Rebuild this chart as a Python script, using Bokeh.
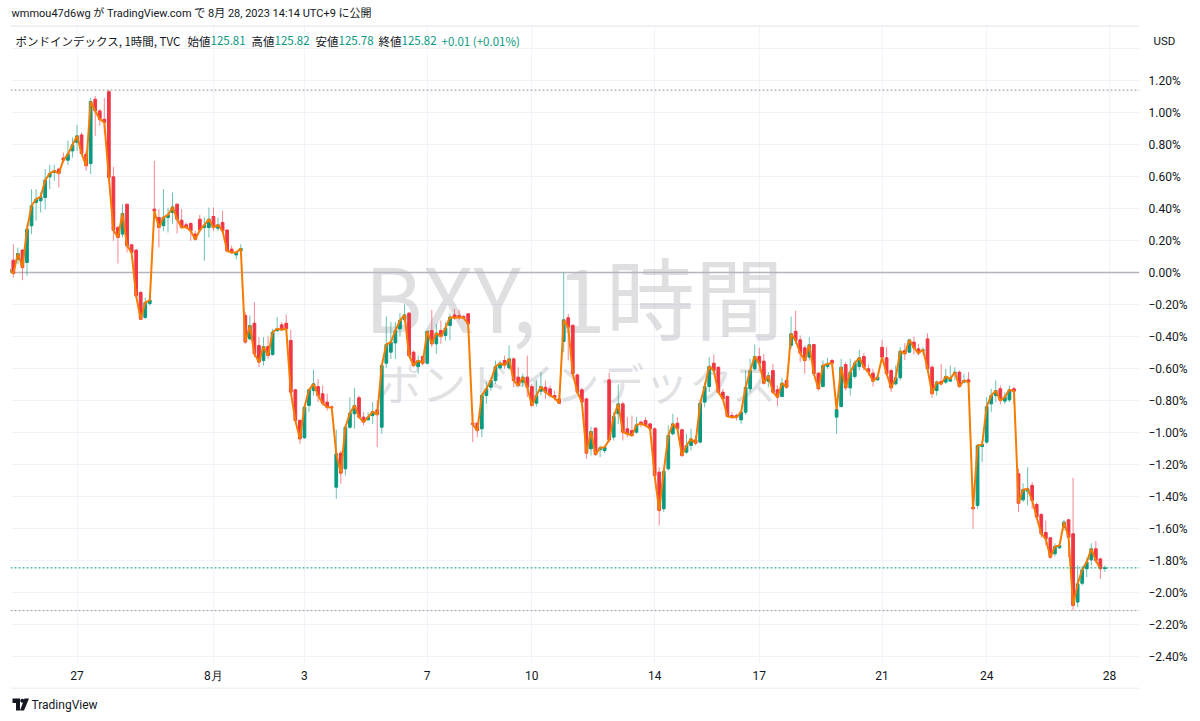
import math
from bokeh.plotting import figure
from bokeh.layouts import column
from bokeh.models import (Range1d, FixedTicker, CustomJSTickFormatter, Span, Label,
                          ColumnDataSource)
from bokeh.core.properties import value
from bokeh.embed import file_html
from bokeh.resources import INLINE

# ---------------- data (percent change vs. first bar) ----------------
opens = [
    0.000, 0.077, 0.083, 0.140, 0.063, 0.292, 0.438, 0.448, 0.469, 0.598,
    0.625, 0.646, 0.715, 0.702, 0.760, 0.813, 0.860, 0.740, 0.681, 1.083,
    1.010, 0.958, 1.130, 0.598, 0.281, 0.240, 0.427, 0.173, 0.140, -0.125,
    -0.281, -0.194, 0.396, 0.344, 0.292, 0.344, 0.375, 0.427, 0.327, 0.298,
    0.306, 0.240, 0.333, 0.281, 0.281, 0.350, 0.277, 0.313, 0.265, 0.146,
    0.110, 0.135, -0.269, -0.415, -0.317, -0.456, -0.550, -0.463, -0.513, -0.363,
    -0.327, -0.317, -0.425, -0.733, -0.925, -1.033, -0.831, -0.738, -0.713, -0.758,
    -0.810, -0.840, -1.342, -1.129, -1.227, -0.967, -0.883, -0.783, -0.904, -0.921,
    -0.894, -0.858, -0.967, -0.567, -0.498, -0.440, -0.352, -0.296, -0.254, -0.498,
    -0.588, -0.525, -0.567, -0.363, -0.446, -0.363, -0.394, -0.331, -0.265, -0.269,
    -0.275, -0.258, -0.942, -0.942, -0.977, -0.769, -0.717, -0.675, -0.596, -0.550,
    -0.596, -0.540, -0.654, -0.685, -0.654, -0.713, -0.817, -0.742, -0.717, -0.727,
    -0.769, -0.790, -0.431, -0.283, -0.331, -0.640, -0.733, -0.790, -1.102, -0.973,
    -1.108, -1.113, -0.671, -1.029, -0.883, -0.821, -0.977, -0.988, -0.998, -0.935,
    -0.925, -0.946, -0.977, -1.248, -1.477, -1.227, -1.008, -0.942, -0.983, -1.123,
    -1.081, -1.046, -1.060, -0.810, -0.713, -0.567, -0.592, -0.748, -0.775, -0.894,
    -0.894, -0.921, -0.873, -0.727, -0.602, -0.525, -0.554, -0.679, -0.613, -0.733,
    -0.775, -0.675, -0.456, -0.367, -0.421, -0.471, -0.529, -0.450, -0.629, -0.713,
    -0.588, -0.550, -0.904, -0.838, -0.575, -0.721, -0.650, -0.588, -0.525, -0.602,
    -0.629, -0.671, -0.467, -0.533, -0.613, -0.696, -0.658, -0.488, -0.498, -0.435,
    -0.477, -0.488, -0.415, -0.592, -0.738, -0.681, -0.685, -0.679, -0.633, -0.623,
    -0.685, -0.671, -1.467, -1.456, -1.088, -1.060, -0.821, -0.769, -0.727, -0.804,
    -0.796, -0.727, -1.258, -1.421, -1.367, -1.331, -1.450, -1.513, -1.625, -1.658,
    -1.758, -1.721, -1.592, -1.546, -1.633, -2.060, -1.942, -1.852, -1.796, -1.727,
    -1.790, -1.850,
]
highs = [
    0.052, 0.177, 0.156, 0.146, 0.302, 0.521, 0.521, 0.500, 0.646, 0.673,
    0.673, 0.656, 0.750, 0.823, 0.844, 0.923, 0.875, 0.760, 1.090, 1.104,
    1.021, 1.090, 1.140, 0.660, 0.292, 0.427, 0.427, 0.177, 0.146, -0.115,
    -0.156, -0.156, 0.698, 0.396, 0.521, 0.406, 0.500, 0.431, 0.396, 0.313,
    0.313, 0.260, 0.360, 0.344, 0.406, 0.406, 0.344, 0.385, 0.271, 0.167,
    0.135, 0.177, -0.248, -0.269, -0.185, -0.404, -0.404, -0.400, -0.352, -0.279,
    -0.310, -0.263, -0.358, -0.727, -0.915, -0.831, -0.727, -0.608, -0.665, -0.706,
    -0.758, -0.831, -0.983, -1.113, -0.956, -0.779, -0.721, -0.769, -0.873, -0.873,
    -0.810, -0.800, -0.571, -0.275, -0.310, -0.310, -0.254, -0.200, -0.248, -0.488,
    -0.519, -0.519, -0.367, -0.233, -0.321, -0.300, -0.310, -0.258, -0.227, -0.233,
    -0.265, -0.254, -0.883, -0.935, -0.758, -0.685, -0.654, -0.550, -0.550, -0.519,
    -0.456, -0.529, -0.592, -0.633, -0.519, -0.696, -0.675, -0.623, -0.675, -0.706,
    -0.738, -0.758, 0.000, -0.258, -0.321, -0.633, -0.721, -0.783, -0.963, -0.967,
    -1.081, -1.081, -0.627, -0.873, -0.700, -0.810, -0.904, -0.894, -0.904, -0.925,
    -0.904, -0.942, -0.967, -1.217, -1.227, -0.956, -0.883, -0.904, -0.977, -1.008,
    -0.977, -1.019, -0.810, -0.685, -0.529, -0.513, -0.588, -0.727, -0.769, -0.873,
    -0.883, -0.863, -0.613, -0.540, -0.450, -0.471, -0.508, -0.623, -0.571, -0.706,
    -0.658, -0.665, -0.275, -0.238, -0.394, -0.456, -0.404, -0.446, -0.623, -0.550,
    -0.533, -0.540, -0.842, -0.540, -0.560, -0.540, -0.550, -0.483, -0.504, -0.575,
    -0.602, -0.650, -0.421, -0.467, -0.602, -0.581, -0.467, -0.442, -0.415, -0.400,
    -0.446, -0.467, -0.379, -0.581, -0.675, -0.571, -0.602, -0.581, -0.592, -0.613,
    -0.633, -0.623, -1.450, -1.071, -1.050, -0.779, -0.727, -0.675, -0.706, -0.748,
    -0.706, -0.713, -1.227, -1.317, -1.217, -1.310, -1.435, -1.504, -1.550, -1.654,
    -1.692, -1.692, -1.546, -1.540, -1.283, -1.831, -1.831, -1.783, -1.692, -1.679,
    -1.783, -1.831,
]
lows = [
    -0.010, -0.031, 0.052, -0.048, -0.021, 0.240, 0.323, 0.375, 0.396, 0.521,
    0.573, 0.531, 0.688, 0.673, 0.719, 0.760, 0.740, 0.635, 0.615, 0.854,
    0.917, 0.865, 0.590, 0.198, 0.056, 0.219, 0.125, 0.119, -0.156, -0.298,
    -0.292, -0.208, 0.323, 0.156, 0.260, 0.250, 0.302, 0.244, 0.275, 0.271,
    0.198, 0.198, 0.250, 0.073, 0.219, 0.260, 0.260, 0.240, 0.125, 0.115,
    0.083, 0.125, -0.446, -0.425, -0.529, -0.592, -0.581, -0.540, -0.519, -0.373,
    -0.363, -0.373, -0.758, -0.935, -1.071, -1.040, -0.873, -0.769, -0.810, -0.831,
    -0.863, -0.852, -1.415, -1.321, -1.269, -0.977, -0.977, -0.915, -0.956, -0.925,
    -0.946, -1.092, -1.008, -0.596, -0.540, -0.540, -0.400, -0.310, -0.525, -0.592,
    -0.633, -0.581, -0.575, -0.467, -0.508, -0.446, -0.425, -0.425, -0.296, -0.296,
    -0.292, -0.331, -1.060, -1.029, -1.029, -0.821, -0.738, -0.696, -0.608, -0.602,
    -0.608, -0.717, -0.713, -0.717, -0.779, -0.842, -0.838, -0.769, -0.790, -0.779,
    -0.800, -0.821, -0.498, -0.550, -0.644, -0.754, -0.821, -1.165, -1.144, -1.144,
    -1.154, -1.129, -1.060, -1.050, -0.946, -1.050, -1.029, -1.029, -1.008, -0.967,
    -0.967, -0.988, -1.279, -1.581, -1.498, -1.238, -1.019, -0.988, -1.154, -1.133,
    -1.113, -1.081, -1.067, -0.842, -0.748, -0.623, -0.754, -0.800, -0.904, -0.915,
    -0.925, -0.946, -0.890, -0.750, -0.613, -0.613, -0.700, -0.717, -0.758, -0.835,
    -0.779, -0.727, -0.477, -0.446, -0.560, -0.633, -0.550, -0.644, -0.738, -0.717,
    -0.602, -0.575, -1.008, -0.842, -0.738, -0.769, -0.665, -0.613, -0.613, -0.644,
    -0.713, -0.675, -0.540, -0.644, -0.748, -0.706, -0.675, -0.546, -0.504, -0.513,
    -0.519, -0.513, -0.613, -0.783, -0.769, -0.706, -0.696, -0.685, -0.675, -0.721,
    -0.692, -0.706, -1.602, -1.477, -1.185, -1.071, -0.873, -0.810, -0.825, -0.821,
    -0.810, -0.821, -1.498, -1.435, -1.456, -1.477, -1.540, -1.658, -1.706, -1.790,
    -1.775, -1.727, -1.613, -1.779, -2.113, -2.092, -1.956, -1.904, -1.831, -1.817,
    -1.915, -1.871,
]
closes = [
    0.021, -0.006, 0.119, 0.031, 0.271, 0.417, 0.458, 0.473, 0.577, 0.619,
    0.635, 0.619, 0.702, 0.740, 0.798, 0.854, 0.744, 0.667, 1.069, 1.010,
    0.958, 0.938, 0.594, 0.265, 0.219, 0.369, 0.167, 0.125, -0.146, -0.292,
    -0.188, -0.173, 0.385, 0.281, 0.344, 0.360, 0.410, 0.333, 0.281, 0.285,
    0.260, 0.208, 0.265, 0.296, 0.333, 0.281, 0.298, 0.260, 0.135, 0.125,
    0.125, 0.150, -0.435, -0.331, -0.508, -0.560, -0.463, -0.519, -0.373, -0.352,
    -0.358, -0.352, -0.748, -0.925, -1.040, -0.842, -0.733, -0.696, -0.769, -0.817,
    -0.842, -0.844, -1.133, -1.254, -0.967, -0.879, -0.831, -0.904, -0.935, -0.904,
    -0.869, -0.888, -0.581, -0.450, -0.435, -0.363, -0.300, -0.265, -0.519, -0.581,
    -0.550, -0.567, -0.367, -0.446, -0.379, -0.400, -0.348, -0.279, -0.283, -0.279,
    -0.283, -0.321, -0.950, -0.988, -0.769, -0.727, -0.675, -0.588, -0.567, -0.581,
    -0.540, -0.675, -0.706, -0.654, -0.717, -0.831, -0.769, -0.713, -0.748, -0.769,
    -0.783, -0.817, -0.296, -0.342, -0.633, -0.748, -0.810, -1.129, -0.994, -1.138,
    -1.096, -1.092, -1.046, -0.900, -0.821, -0.998, -1.008, -1.019, -0.952, -0.946,
    -0.956, -0.977, -1.269, -1.488, -1.242, -1.019, -0.946, -0.977, -1.144, -1.081,
    -1.040, -1.067, -0.817, -0.713, -0.588, -0.613, -0.748, -0.790, -0.900, -0.904,
    -0.904, -0.873, -0.717, -0.613, -0.525, -0.567, -0.692, -0.644, -0.748, -0.779,
    -0.692, -0.717, -0.383, -0.425, -0.504, -0.550, -0.452, -0.633, -0.727, -0.581,
    -0.571, -0.567, -0.856, -0.592, -0.721, -0.623, -0.567, -0.533, -0.592, -0.623,
    -0.679, -0.654, -0.529, -0.633, -0.721, -0.658, -0.492, -0.508, -0.421, -0.471,
    -0.504, -0.483, -0.602, -0.758, -0.685, -0.696, -0.650, -0.665, -0.623, -0.713,
    -0.675, -0.685, -1.477, -1.081, -1.075, -0.838, -0.769, -0.738, -0.800, -0.779,
    -0.733, -0.742, -1.442, -1.358, -1.352, -1.425, -1.529, -1.633, -1.665, -1.779,
    -1.713, -1.706, -1.560, -1.654, -2.081, -1.946, -1.858, -1.810, -1.727, -1.800,
    -1.852, -1.846,
]
bar_index = list(range(1, len(closes) + 1))

date_ticks = [16, 46, 66, 93, 116, 143, 166, 193, 216, 243]
date_labels = ["27", "8月", "3", "7", "10", "14", "17", "21", "24", "28"]
pct_ticks = [-2.4, -2.2, -2.0, -1.8, -1.6, -1.4, -1.2, -1.0, -0.8, -0.6, -0.4, -0.2,
             0.0, 0.2, 0.4, 0.6, 0.8, 1.0, 1.2, 1.4]

header_text = "wmmou47d6wg が TradingView.com で 8月 28, 2023 14:14 UTC+9 に公開"
symbol_text = "ポンドインデックス, 1時間, TVC"
ohlc_names = ["始値", "高値", "安値", "終値"]
ohlc_values = ["125.81", "125.82", "125.78", "125.82"]
change_text = "+0.01 (+0.01%)"
watermark_main = "BXY, 1時間"
watermark_sub = "ポンドインデックス"
currency_text = "USD"
brand_text = "TradingView"

# ---------------- styling / layout constants ----------------
UP = "#089981"
DOWN = "#F23645"
TXT = "#131722"
GRID = "#f0f3fa"
BORDER = "#e0e3eb"
JP = "Noto Sans CJK JP"
MIXED = "Roboto, 'Noto Sans CJK JP', sans-serif"
W = 1200
HEAD_H, MAIN_H, FOOT_H = 52, 635, 34
FRAME_L, FRAME_R = 10, 1139           # page x of the price pane
FRAME_B = 663                          # page y of the pane bottom
X0, X1 = 1.374, 249.6                  # bar-index range of the pane
Y0, Y1 = -2.44375, 1.375               # percent range of the pane
PX_PER_PCT = 160.0


def bar_to_px(b):
    return FRAME_L + (b - X0) * (FRAME_R - FRAME_L) / (X1 - X0)


def pct_to_py(v):
    return FRAME_B - (v - Y0) * PX_PER_PCT


def strip(height):
    f = figure(width=W, height=height, x_range=Range1d(FRAME_L, FRAME_R),
               y_range=Range1d(height, 0), output_backend="svg", toolbar_location=None,
               min_border_left=FRAME_L, min_border_right=W - FRAME_R, min_border_top=0,
               min_border_bottom=0, x_axis_type=None, y_axis_location="right",
               outline_line_color=None, background_fill_color="white",
               border_fill_color="white")
    f.grid.visible = False
    return f


# ---------------- header strip (page y 0..52) ----------------
head = strip(HEAD_H)
# currency tag lives on the strip's right scale
head.yaxis.ticker = FixedTicker(ticks=[40])
head.yaxis.formatter = CustomJSTickFormatter(args=dict(t=currency_text), code="return t;")
head.yaxis.axis_line_color = None
head.yaxis.major_tick_line_color = None
head.yaxis.minor_tick_line_color = None
head.yaxis.major_tick_out = 0
head.yaxis.major_tick_in = 0
head.yaxis.minor_tick_out = 0
head.yaxis.major_label_standoff = 14
head.yaxis.major_label_text_font = "Roboto"
head.yaxis.major_label_text_font_size = "11.5px"
head.yaxis.major_label_text_color = TXT
# continuation of the pane grid into the legend row
head.segment(x0=[bar_to_px(t) for t in date_ticks], y0=25, x1=[bar_to_px(t) for t in date_ticks],
             y1=HEAD_H, line_color=GRID, line_width=1)
head.segment(x0=FRAME_L, y0=pct_to_py(1.4), x1=FRAME_R, y1=pct_to_py(1.4), line_color=GRID, line_width=1)
# pane top border
head.segment(x0=FRAME_L, y0=25.5, x1=FRAME_R, y1=25.5, line_color=BORDER, line_width=1)
# header line
head.text(x=[11], y=[13], text=[header_text], text_font=value(MIXED), text_font_size=value("11px"),
          text_color=TXT, text_baseline="middle", text_align="left")
# legend row
leg_text = [symbol_text]
leg_x = [15]
leg_col = [TXT]
for nx, nm, vv in zip([187, 251, 315, 378], ohlc_names, ohlc_values):
    leg_text += [nm, vv]
    leg_x += [nx, nx + 23]
    leg_col += [TXT, UP]
leg_text.append(change_text)
leg_x.append(441)
leg_col.append(UP)
head.text(x=leg_x, y=[40] * len(leg_x), text=leg_text, text_font=value(JP),
          text_font_size=value("11.5px"), text_color=leg_col, text_baseline="middle",
          text_align="left")

# ---------------- main price pane ----------------
src = ColumnDataSource(dict(
    x=bar_index, open=opens, high=highs, low=lows, close=closes,
    top=[max(o, c) for o, c in zip(opens, closes)],
    bottom=[min(o, c) for o, c in zip(opens, closes)],
    color=[UP if c >= o else DOWN for o, c in zip(opens, closes)],
))

p = figure(width=W, height=MAIN_H, x_range=Range1d(X0, X1), y_range=Range1d(Y0, Y1),
           output_backend="svg", toolbar_location=None, y_axis_location="right",
           min_border_left=FRAME_L, min_border_right=W - FRAME_R, min_border_top=0,
           min_border_bottom=HEAD_H + MAIN_H - FRAME_B,
           outline_line_color=None, background_fill_color="white", border_fill_color="white")

p.xaxis.ticker = FixedTicker(ticks=date_ticks)
p.xaxis.formatter = CustomJSTickFormatter(
    args=dict(tk=date_ticks, lb=date_labels),
    code="const i = tk.indexOf(Math.round(tick)); return i >= 0 ? lb[i] : '';")
p.yaxis.ticker = FixedTicker(ticks=pct_ticks)
p.yaxis.formatter = CustomJSTickFormatter(
    code="const s = Math.abs(tick).toFixed(2) + '%'; return tick < -1e-9 ? '\u2212' + s : s;")
for ax in (p.xaxis[0], p.yaxis[0]):
    ax.axis_line_color = None
    ax.major_tick_line_color = None
    ax.minor_tick_line_color = None
    ax.major_tick_out = 0
    ax.major_tick_in = 0
    ax.minor_tick_out = 0
    ax.major_label_text_color = TXT
    ax.major_label_text_font = "Roboto"
    ax.major_label_text_font_size = "12px"
p.xaxis.major_label_standoff = 5
p.yaxis.major_label_standoff = 9

p.xgrid.ticker = FixedTicker(ticks=date_ticks)
p.ygrid.ticker = FixedTicker(ticks=pct_ticks)
p.xgrid.grid_line_color = GRID
p.ygrid.grid_line_color = GRID

# watermark
p.add_layout(Label(x=563.5, y=369, x_units="screen", y_units="screen", text=watermark_main,
                   text_align="center", text_baseline="middle", text_font=JP,
                   text_font_size="89px", text_color="#787B86", text_alpha=0.24, level="underlay"))
p.add_layout(Label(x=567, y=282, x_units="screen", y_units="screen", text=watermark_sub,
                   text_align="center", text_baseline="middle", text_font=JP,
                   text_font_size="44.5px", text_color="#787B86", text_alpha=0.24, level="underlay"))

# zero line
p.add_layout(Span(location=0, dimension="width", line_color="#b2b5be", line_width=1.5, level="underlay"))

# candles
p.segment(x0="x", y0="low", x1="x", y1="high", line_color="color", line_alpha=0.6,
          line_width=1, source=src)
p.vbar(x="x", width=0.6, top="top", bottom="bottom", fill_color="color",
       line_color="color", line_width=1, source=src)
# orange close line
p.line(bar_index[:-1], closes[:-1], line_color="#F57C00", line_width=2)

# high / low / last lines
p.add_layout(Span(location=max(highs), dimension="width", line_color="#9598a1",
                  line_dash="2 2", line_width=1))
p.add_layout(Span(location=min(lows), dimension="width", line_color="#9598a1",
                  line_dash="2 2", line_width=1))
p.add_layout(Span(location=closes[-1], dimension="width", line_color=UP,
                  line_dash="2 2", line_width=1))

# ---------------- footer strip (page y 687..721) ----------------
foot = strip(FOOT_H)
foot.yaxis.visible = False
foot.segment(x0=FRAME_L, y0=0.5, x1=FRAME_R, y1=0.5, line_color=BORDER, line_width=1)
logo_t = [(12, 11), (19.5, 11), (19.5, 23), (15.5, 23), (15.5, 15.5), (12, 15.5)]
logo_v = [(24, 11), (28.5, 11), (23.5, 23), (19.5, 23)]
logo_dot = [(21.8 + 2.0 * math.cos(a * math.pi / 6), 13.2 + 2.0 * math.sin(a * math.pi / 6))
            for a in range(12)]
foot.patches(xs=[[a for a, b in s] for s in (logo_t, logo_v, logo_dot)],
             ys=[[b for a, b in s] for s in (logo_t, logo_v, logo_dot)],
             fill_color=TXT, line_color=None)
foot.text(x=[31], y=[17], text=[brand_text], text_font=value("Roboto"),
          text_font_size=value("12px"), text_color=TXT, text_baseline="middle",
          text_align="left")

layout = column(head, p, foot, spacing=0)
open("out.html", "w").write(file_html(layout, INLINE))
